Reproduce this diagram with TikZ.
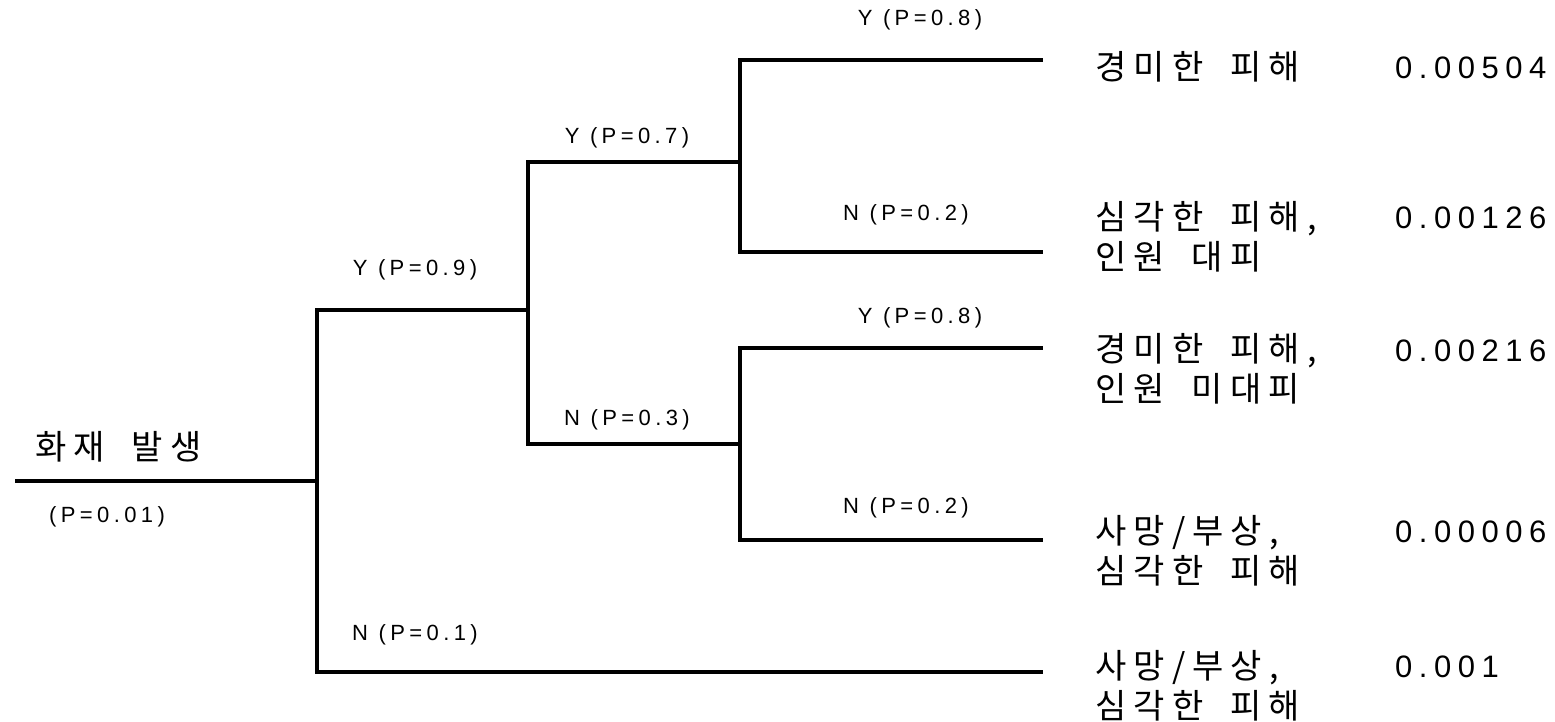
\documentclass[tikz,border=0pt]{standalone}
\usepackage{fontspec}
\newfontfamily\latfont{Liberation Sans}[LetterSpace=20]
\newfontfamily\numfont{Liberation Sans}[LetterSpace=21]
\newfontfamily\krfont{Noto Sans CJK KR}[LetterSpace=21]
% Korean text: wide word spaces
\newcommand\krtext{\krfont\fontsize{34}{40}\selectfont\spaceskip=27pt\relax}
\begin{document}
\begin{tikzpicture}[x=1pt,y=-1pt,
  branch/.style={line width=4.5pt, line join=miter},
  prob/.style={font=\latfont\fontsize{22}{24}\selectfont, inner sep=0pt},
  outcome/.style={font=\krtext, align=left, anchor=base west, inner sep=0pt},
  value/.style={font=\numfont\fontsize{31}{36}\selectfont, anchor=base west, inner sep=0pt},
  event/.style={font=\krtext, anchor=base west, inner sep=0pt}]
\useasboundingbox (0,0) rectangle (1555,721);

% junction and end points of the event tree
\coordinate (r0) at (15,481);
\coordinate (j1) at (317,481);
\coordinate (j2) at (528,310);
\coordinate (j3) at (740,162);
\coordinate (j4) at (740,444);
\coordinate (e1) at (1043,60);
\coordinate (e2) at (1043,252);
\coordinate (e3) at (1043,348);
\coordinate (e4) at (1043,540);
\coordinate (e5) at (1043,672);

% branches
\draw[branch] (r0) -- (j1);
\draw[branch] (j1) |- (j2);
\draw[branch] (j1) |- (e5);
\draw[branch] (j2) |- (j3);
\draw[branch] (j2) |- (j4);
\draw[branch] (j3) |- (e1);
\draw[branch] (j3) |- (e2);
\draw[branch] (j4) |- (e3);
\draw[branch] (j4) |- (e4);

% initiating event
\node[event] (fire) at (35,459) {화재 발생};
\node[prob] (pfire) at (107,517) {(P=0.01)};

% branch probabilities
\node[prob] (p09) at (415,270) {Y (P=0.9)};
\node[prob] (p01) at (415,635) {N (P=0.1)};
\node[prob] (p07) at (627,138) {Y (P=0.7)};
\node[prob] (p03) at (627,420) {N (P=0.3)};
\node[prob] (p08a) at (920,20) {Y (P=0.8)};
\node[prob] (p02a) at (906,215) {N (P=0.2)};
\node[prob] (p08b) at (920,318) {Y (P=0.8)};
\node[prob] (p02b) at (906,508) {N (P=0.2)};

% outcomes (anchored at the baseline of the last line)
\node[outcome] (o1) at (1095,79) {경미한 피해};
\node[outcome] (o2) at (1095,229+40) {심각한 피해,\\인원 대피};
\node[outcome] (o3) at (1095,362+39) {경미한 피해,\\인원 미대피};
\node[outcome] (o4) at (1095,543+40) {사망/부상,\\심각한 피해};
\node[outcome] (o5) at (1095,678+40) {사망/부상,\\심각한 피해};

% outcome frequencies
\node[value] (v1) at (1395,78) {0.00504};
\node[value] (v2) at (1395,228) {0.00126};
\node[value] (v3) at (1395,361) {0.00216};
\node[value] (v4) at (1395,542) {0.00006};
\node[value] (v5) at (1395,677) {0.001};
\end{tikzpicture}
\end{document}
